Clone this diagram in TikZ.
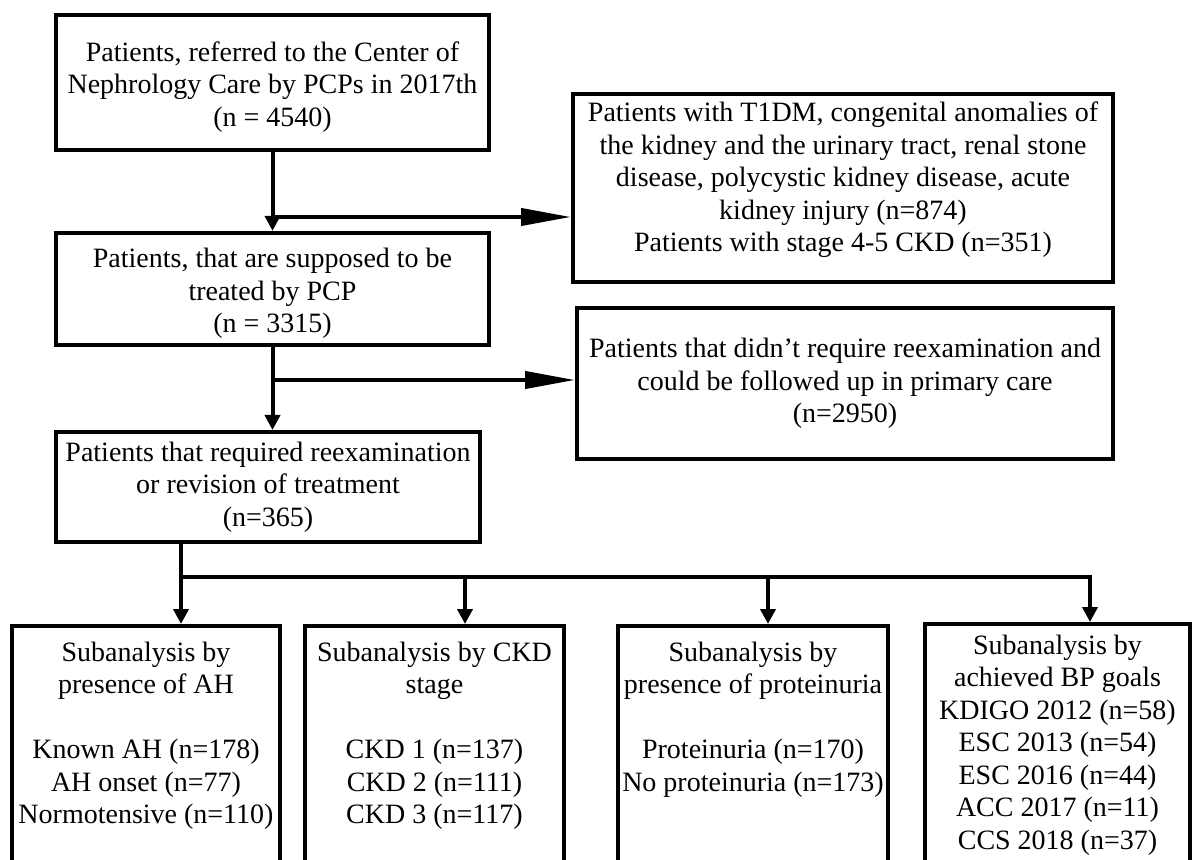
\documentclass[tikz,border=0pt]{standalone}
\usepackage{fontspec}
\setmainfont{Liberation Serif}
\usetikzlibrary{arrows.meta}

\begin{document}
\begin{tikzpicture}[x=0.5pt,y=-0.5pt,
  box/.style={draw, line width=2pt, align=center, inner xsep=2pt,
    font=\fontsize{14}{16.25}\selectfont},
  subbox/.style={box, anchor=north, inner ysep=8pt, text depth=150pt},
  conn/.style={line width=2pt},
  downarrow/.style={conn, -{Triangle[length=7.5pt,width=7.5pt]}},
  sidearrow/.style={conn, -{Triangle[length=25pt,width=8.5pt]}}]
\useasboundingbox (0,0) rectangle (1192,860);
\clip (0,0) rectangle (1192,860);

\node[box, minimum width=216.5pt, minimum height=67.5pt] (refd) at (272.5,82.5)
  {\rule{0pt}{14pt}Patients, referred to the Center of\\Nephrology Care by PCPs in 2017th\\(n = 4540)};
\node[box, minimum width=270pt, minimum height=94pt] (excl) at (843,188)
  {Patients with T1DM, congenital anomalies of\\the kidney and the urinary tract, renal stone\\disease, polycystic kidney disease, acute\\kidney injury (n=874)\\Patients with stage 4-5 CKD (n=351)\rule[-11pt]{0pt}{11pt}};
\node[box, minimum width=216.5pt, minimum height=52pt] (pcp) at (272.5,289)
  {\rule{0pt}{14pt}Patients, that are supposed to be\\treated by PCP\\(n = 3315)};
\node[box, minimum width=268pt, minimum height=75.5pt] (prim) at (845,383.5)
  {Patients that didn’t require reexamination and\\could be followed up in primary care\\(n=2950)};
\node[box, minimum width=212pt, minimum height=55pt] (reex) at (268,487)
  {Patients that required reexamination\\or revision of treatment\\(n=365)};

\node[subbox, minimum width=134pt] (ah) at (146,624)
  {Subanalysis by\\presence of AH\\[16.25pt]Known AH (n=178)\\AH onset (n=77)\\Normotensive (n=110)};
\node[subbox, minimum width=129.5pt] (ckd) at (434.5,624)
  {Subanalysis by CKD\\stage\\[16.25pt]CKD 1 (n=137)\\CKD 2 (n=111)\\CKD 3 (n=117)};
\node[subbox, minimum width=135pt] (prot) at (753,624)
  {Subanalysis by\\presence of proteinuria\\[16.25pt]Proteinuria (n=170)\\No proteinuria (n=173)};
\node[subbox, minimum width=132.5pt, inner ysep=5.5pt] (bp) at (1057.5,622)
  {Subanalysis by\\achieved BP goals\\KDIGO 2012 (n=58)\\ESC 2013 (n=54)\\ESC 2016 (n=44)\\ACC 2017 (n=11)\\CCS 2018 (n=37)};

\coordinate (split1) at (272.5,217);
\coordinate (split2) at (272.5,380);
\coordinate (tah) at (181,577);
\coordinate (tckd) at (465,577);
\coordinate (tprot) at (768,577);
\coordinate (tbp) at (1090,577);

\draw[downarrow] (refd.south) -- (pcp.north);
\draw[sidearrow] (split1) -- (split1 -| excl.west);
\draw[downarrow] (pcp.south) -- (pcp.south |- reex.north);
\draw[sidearrow] (split2) -- (split2 -| prim.west);
\draw[downarrow] (reex.south -| tah) -- (tah |- ah.north);
\draw[downarrow] (tah) -- (tbp) -- (tbp |- bp.north);
\foreach \t/\n in {tckd/ckd, tprot/prot}
  \draw[downarrow] (\t) -- (\t |- \n.north);
\end{tikzpicture}
\end{document}
